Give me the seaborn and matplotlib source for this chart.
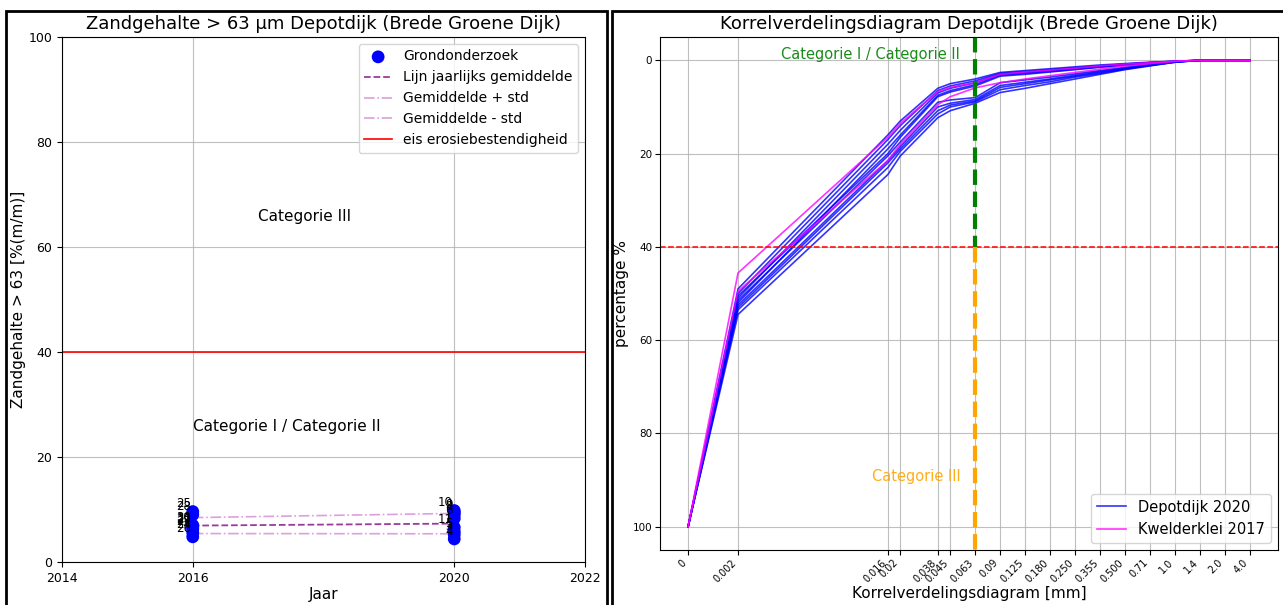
import numpy as np
import pandas as pd
import matplotlib
matplotlib.use("Agg")
import matplotlib.pyplot as plt
import seaborn as sns
from matplotlib.patches import Rectangle

# ---------------- data: left panel ----------------
years_2016_ids = [25, 28, 30, 22, 29, 27, 24, 26]
values_2016 = [9.6, 9.0, 7.0, 6.8, 6.5, 6.2, 5.6, 4.8]
years_2020_ids = [10, 9, 8, 6, 11, 5, 3, 4]
values_2020 = [9.8, 9.4, 9.0, 8.3, 6.6, 5.8, 5.2, 4.4]
years = [2016, 2020]
eis_erosie = 40
year_ticks = [2014, 2016, 2020, 2022]

# ---------------- data: right panel ----------------
sieve_labels = ["0", "0.002", "0.016", "0.02", "0.038", "0.045", "0.063", "0.09",
                "0.125", "0.180", "0.250", "0.355", "0.500", "0.71", "1.0", "1.4",
                "2.0", "4.0"]
sieve_pos = [0, 2, 8, 8.5, 10, 10.5, 11.5, 12.5, 13.5, 14.5, 15.5, 16.5, 17.5,
             18.5, 19.5, 20.5, 21.5, 22.5]

depot_2020 = [
    [100, 49.0, 16.0, 13.0, 6.0, 5.0, 4.0, 2.6, 2.2, 1.8, 1.4, 1.0, 0.7, 0.4, 0.2, 0, 0, 0],
    [100, 50.0, 17.0, 14.0, 6.5, 5.5, 4.4, 2.8, 2.4, 2.0, 1.6, 1.2, 0.8, 0.5, 0.2, 0, 0, 0],
    [100, 51.0, 18.0, 15.0, 7.0, 6.0, 4.8, 3.0, 2.6, 2.2, 1.8, 1.3, 0.9, 0.5, 0.2, 0, 0, 0],
    [100, 52.0, 19.0, 16.0, 7.5, 6.5, 5.2, 3.2, 2.8, 2.4, 1.9, 1.4, 1.0, 0.6, 0.3, 0, 0, 0],
    [100, 50.5, 20.0, 16.5, 7.8, 6.8, 5.5, 3.4, 3.0, 2.5, 2.0, 1.5, 1.0, 0.6, 0.3, 0, 0, 0],
    [100, 51.5, 20.5, 17.5, 9.0, 8.5, 8.0, 4.8, 4.2, 3.6, 2.9, 2.2, 1.5, 0.9, 0.3, 0, 0, 0],
    [100, 52.5, 21.5, 18.5, 10.0, 9.2, 8.4, 5.4, 4.7, 4.0, 3.2, 2.4, 1.7, 1.0, 0.3, 0, 0, 0],
    [100, 53.0, 22.0, 19.0, 10.8, 9.6, 8.7, 5.8, 5.0, 4.2, 3.4, 2.6, 1.8, 1.1, 0.4, 0, 0, 0],
    [100, 53.5, 23.0, 19.5, 11.5, 10.0, 8.9, 6.3, 5.4, 4.6, 3.6, 2.8, 1.9, 1.1, 0.4, 0, 0, 0],
    [100, 54.5, 24.5, 20.5, 12.3, 10.8, 9.2, 6.9, 6.0, 5.0, 4.0, 3.0, 2.0, 1.2, 0.4, 0, 0, 0],
]
kwelder_2017 = [
    [100, 45.6, 16.5, 13.5, 6.7, 5.8, 4.8, 3.0, 2.5, 2.1, 1.7, 1.2, 0.8, 0.5, 0.2, 0, 0, 0],
    [100, 49.5, 21.5, 18.0, 9.5, 7.8, 5.9, 4.8, 4.0, 3.3, 2.6, 1.9, 1.2, 0.7, 0.2, 0, 0, 0],
]
grens_y = 40
grens_x = 11.5  # position of 0.063 mm

# ---------------- figure ----------------
plt.rcParams['font.family'] = ['DejaVu Sans']
fig = plt.figure(figsize=(12.83, 6.05), dpi=100)
ax1 = fig.add_axes([62/1283, 1-562/605, (585-62)/1283, (562-37)/605])
ax2 = fig.add_axes([660/1283, 1-550/605, (1278-660)/1283, (550-37)/605])

# frames around panels
fig.patches.append(Rectangle((6/1283, -0.05), (607-6)/1283, 1.05-11/605, transform=fig.transFigure,
                             fill=False, edgecolor='black', linewidth=2))
fig.patches.append(Rectangle((612/1283, -0.05), 1.0, 1.05-11/605, transform=fig.transFigure,
                             fill=False, edgecolor='black', linewidth=2))

# ---- left panel ----
pts = pd.DataFrame({
    "jaar": [2016]*len(values_2016) + [2020]*len(values_2020),
    "waarde": values_2016 + values_2020,
    "id": years_2016_ids + years_2020_ids,
})
sns.scatterplot(data=pts, x="jaar", y="waarde", color="blue", s=85, edgecolor="none",
                ax=ax1, label="Grondonderzoek", zorder=3)
for jx, wy, lab in zip(pts["jaar"], pts["waarde"], pts["id"]):
    ax1.annotate(str(int(lab)), (jx, wy), xytext=(-1, 1),
                 textcoords="offset points", ha="right", va="bottom", fontsize=8.5)

means = [np.mean(values_2016), np.mean(values_2020)]
stds = [np.std(values_2016), np.std(values_2020)]
stat = pd.DataFrame({"jaar": years, "mean": means,
                     "plus": [m + s for m, s in zip(means, stds)],
                     "min": [m - s for m, s in zip(means, stds)]})
sns.lineplot(data=stat, x="jaar", y="mean", color="#9b3a9b", linestyle="--", lw=1.3,
             ax=ax1, label="Lijn jaarlijks gemiddelde")
sns.lineplot(data=stat, x="jaar", y="plus", color="#dda0dd", linestyle="-.", lw=1.2,
             ax=ax1, label="Gemiddelde + std")
sns.lineplot(data=stat, x="jaar", y="min", color="#dda0dd", linestyle="-.", lw=1.2,
             ax=ax1, label="Gemiddelde - std")
ax1.axhline(eis_erosie, color="red", lw=1.2, label="eis erosiebestendigheid")
ax1.text(2017, 65, "Categorie III", fontsize=11)
ax1.text(2016, 25, "Categorie I / Categorie II", fontsize=11)
ax1.set_xlim(2014, 2022)
ax1.set_ylim(0, 100)
ax1.set_xticks(year_ticks)
ax1.set_yticks([0, 20, 40, 60, 80, 100])
ax1.grid(True, color="#b0b0b0", lw=0.8, alpha=0.8)
ax1.set_axisbelow(True)
ax1.set_title("Zandgehalte > 63 µm Depotdijk (Brede Groene Dijk)", fontsize=13)
ax1.set_xlabel("Jaar", fontsize=11, labelpad=2)
ax1.set_ylabel("Zandgehalte > 63 [%(m/m)]", fontsize=11, labelpad=2)
ax1.tick_params(labelsize=9)
ax1.legend(loc="upper right", fontsize=10)

# ---- right panel ----
rows = []
for i, c in enumerate(depot_2020):
    for p, v in zip(sieve_pos, c):
        rows.append(("Depotdijk 2020", i, p, v))
for i, c in enumerate(kwelder_2017):
    for p, v in zip(sieve_pos, c):
        rows.append(("Kwelderklei 2017", 100 + i, p, v))
curves = pd.DataFrame(rows, columns=["bron", "monster", "pos", "perc"])
sns.lineplot(data=curves, x="pos", y="perc", hue="bron", units="monster", estimator=None,
             palette={"Depotdijk 2020": "blue", "Kwelderklei 2017": "magenta"},
             lw=1.2, alpha=0.8, ax=ax2, sort=False)
ax2.set_xlim(-1.125, 23.625)
ax2.set_ylim(105, -5)
ax2.axhline(grens_y, color="red", linestyle="--", lw=1.1)
ax2.plot([grens_x, grens_x], [-5, grens_y], color="green", linestyle="--", lw=3)
ax2.plot([grens_x, grens_x], [grens_y, 105], color="orange", linestyle="--", lw=3)
ax2.text(10.9, -1.2, "Categorie I / Categorie II", color="green", fontsize=10.5,
         ha="right", va="center", alpha=0.9)
ax2.text(10.9, 89.3, "Categorie III", color="orange", fontsize=10.5, ha="right",
         va="center", alpha=0.9)
ax2.set_xticks(sieve_pos)
ax2.set_xticklabels(sieve_labels, rotation=45, fontsize=7, ha="right")
ax2.set_yticks([0, 20, 40, 60, 80, 100])
ax2.tick_params(axis="y", labelsize=7.5, pad=2)
ax2.tick_params(axis="x", pad=2)
ax2.grid(True, color="#b0b0b0", lw=0.8, alpha=0.8)
ax2.set_axisbelow(True)
ax2.set_title("Korrelverdelingsdiagram Depotdijk (Brede Groene Dijk)", fontsize=13)
ax2.set_xlabel("Korrelverdelingsdiagram [mm]", fontsize=11, labelpad=1)
ax2.set_ylabel("percentage %", fontsize=11)
ax2.yaxis.set_label_coords(-0.05, 0.5)
h, l = ax2.get_legend_handles_labels()
ax2.legend(h, l, loc="lower right", fontsize=10.5, title=None)

fig.savefig("out.png", dpi=100)
